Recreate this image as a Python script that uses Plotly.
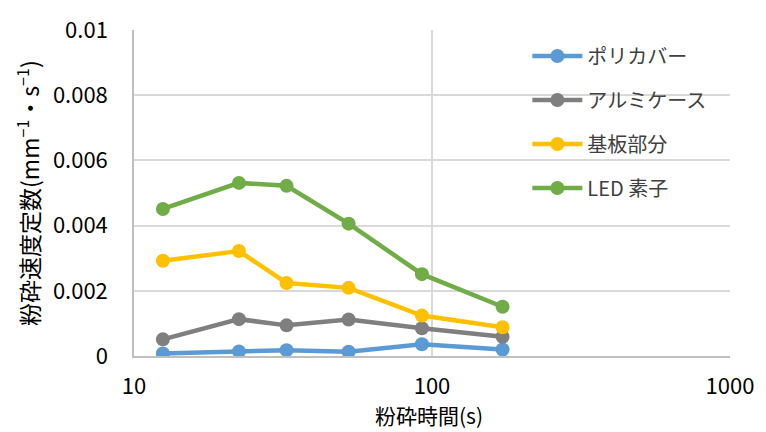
import plotly.graph_objects as go

# Grinding time (s) and grinding rate constant (mm^-1·s^-1) for each component
grind_time = [12.5, 22.5, 32.5, 52.5, 92.5, 172.5]

series_names = ["ポリカバー", "アルミケース", "基板部分", "LED 素子"]
polycover = [0.00008, 0.00014, 0.00018, 0.00013, 0.00036, 0.00020]
alum_case = [0.00051, 0.00113, 0.00094, 0.00112, 0.00085, 0.00059]
board_part = [0.00292, 0.00322, 0.00224, 0.00209, 0.00124, 0.00088]
led_element = [0.00451, 0.00531, 0.00522, 0.00406, 0.00251, 0.00151]
series_values = [polycover, alum_case, board_part, led_element]
series_colors = ["#5B9BD5", "#7F7F7F", "#FFC000", "#70AD47"]

y_ticks = [0, 0.002, 0.004, 0.006, 0.008, 0.01]
y_tick_labels = ["0", "0.002", "0.004", "0.006", "0.008", "0.01"]
x_ticks = [10, 100, 1000]
x_tick_labels = ["10", "100", "1000"]

FONT = "Noto Sans CJK JP"

fig = go.Figure()
for i, (name, vals, col) in enumerate(zip(series_names, series_values, series_colors)):
    fig.add_trace(go.Scatter(
        x=grind_time, y=vals, name=name, mode="lines+markers",
        line=dict(color=col, width=4.5),
        marker=dict(color=col, size=14),
        legendgroup=f"g{i}",
    ))

fig.update_layout(
    width=766, height=432,
    margin=dict(l=134, r=30, t=20, b=76),
    paper_bgcolor="white", plot_bgcolor="white",
    font=dict(family=FONT, size=21, color="#000000"),
    showlegend=True,
    legend=dict(
        x=0.66, y=0.98, xanchor="left", yanchor="top",
        bgcolor="rgba(0,0,0,0)", borderwidth=0,
        font=dict(family=FONT, size=20, color="#404040"),
        tracegroupgap=15, itemwidth=50,
    ),
    xaxis=dict(
        type="log", range=[1, 3],
        tickvals=x_ticks, ticktext=x_tick_labels,
        showgrid=True, gridcolor="#D9D9D9", gridwidth=1.5,
        showline=True, linecolor="#BFBFBF", linewidth=1.5,
        zeroline=False, ticks="", ticklabelstandoff=10,
        tickfont=dict(family=FONT, size=22, color="#000000"),
        mirror=False,
    ),
    yaxis=dict(
        range=[0, 0.01],
        tickvals=y_ticks, ticktext=y_tick_labels,
        showgrid=True, gridcolor="#D9D9D9", gridwidth=1.5,
        showline=True, linecolor="#BFBFBF", linewidth=1.5,
        zeroline=False, ticks="", ticklabelstandoff=20,
        tickfont=dict(family=FONT, size=22, color="#000000"),
    ),
    annotations=[
        dict(text="粉砕時間(s)", xref="paper", yref="paper",
             x=0.495, y=-0.18, xanchor="center", yanchor="middle",
             showarrow=False, font=dict(family=FONT, size=21, color="#000000")),
        dict(text="粉砕速度定数(mm<sup>−1</sup>・s<sup>−1</sup>)",
             xref="paper", yref="paper",
             x=-0.178, y=0.5, xanchor="center", yanchor="middle", textangle=-90,
             showarrow=False, font=dict(family=FONT, size=23, color="#000000")),
    ],
)

fig.write_html("out.html")
